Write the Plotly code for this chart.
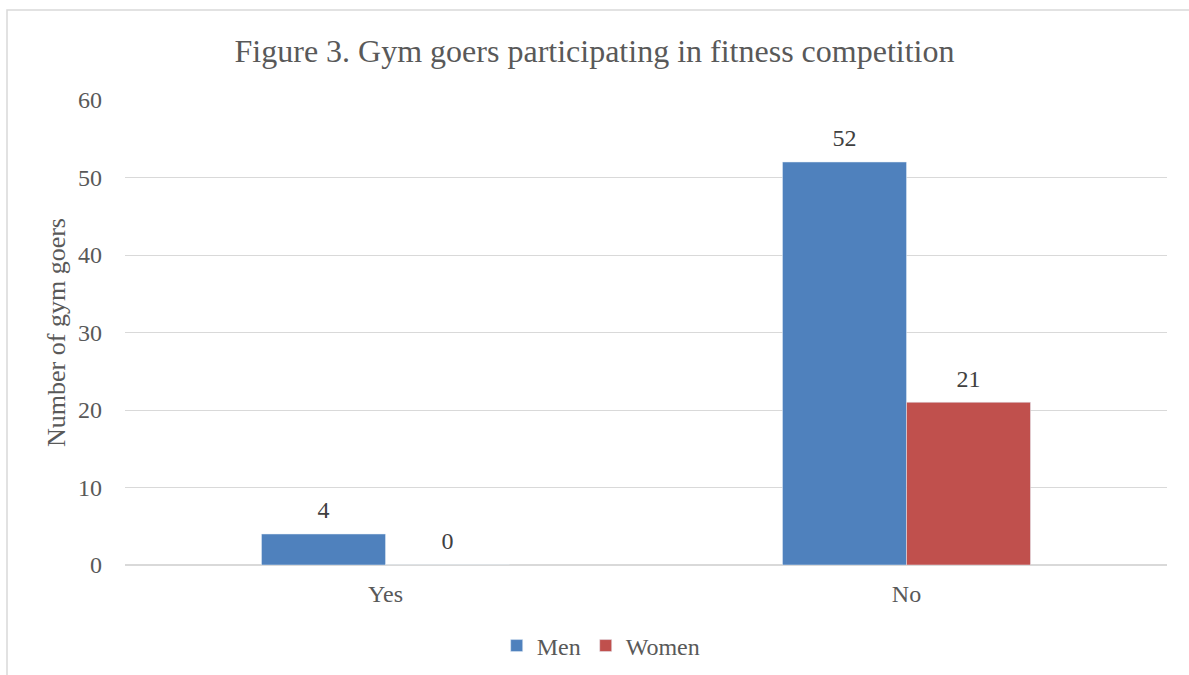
import plotly.graph_objects as go

categories = ["Yes", "No"]
men = [4, 52]
women = [0, 21]
series_names = ["Men", "Women"]
series_colors = ["#4F81BD", "#C0504D"]
title_text = "Figure 3. Gym goers participating in fitness competition"
y_title = "Number of gym goers"

FONT = "Liberation Serif, Times New Roman, serif"
TXT = "#595959"

fig = go.Figure()
for name, vals, col in zip(series_names, [men, women], series_colors):
    fig.add_trace(go.Bar(name=name, x=categories, y=vals, marker_color=col,
                         offsetgroup=name, hoverinfo="x+y+name"))
for name, vals in zip(series_names, [men, women]):
    fig.add_trace(go.Scatter(x=categories, y=vals, text=[str(v) for v in vals],
                             mode="markers+text", textposition="top center",
                             marker=dict(size=14, opacity=0), offsetgroup=name,
                             textfont=dict(family=FONT, size=24, color="#404040"),
                             showlegend=False, hoverinfo="skip", cliponaxis=False))

fig.update_layout(
    width=1189, height=675,
    margin=dict(l=125, r=22, t=100, b=110, autoexpand=False),
    paper_bgcolor="white", plot_bgcolor="white",
    barmode="group", bargap=0.524, bargroupgap=0,
    scattermode="group", scattergap=0.524,
    font=dict(family=FONT, size=24, color=TXT),
    title=dict(text=title_text, x=0.5, xanchor="center", y=0.925, yanchor="middle",
               font=dict(family=FONT, size=32, color=TXT)),
    legend=dict(orientation="h", x=0.457, xanchor="center", yref="container", y=0.043,
                yanchor="middle", font=dict(family=FONT, size=24, color=TXT), itemwidth=30,
                traceorder="normal"),
    xaxis=dict(showgrid=False, showline=False, ticks="", ticklabelstandoff=12,
               automargin=False, tickfont=dict(size=24, color=TXT)),
    yaxis=dict(range=[0, 60], dtick=10, showgrid=True, gridcolor="#D9D9D9", gridwidth=1,
               zeroline=True, zerolinecolor="#D9D9D9", zerolinewidth=1.5, showline=False,
               ticks="", ticklabelstandoff=22, automargin=False, tickfont=dict(size=24, color=TXT),
               title=dict(text=y_title, font=dict(family=FONT, size=26, color=TXT), standoff=4)),
)

fig.add_shape(type="rect", xref="paper", yref="paper",
              x0=(7 - 125) / 1042, x1=1.2, y0=-0.5, y1=(565 - 10) / 465,
              line=dict(color="#D9D9D9", width=1.5), fillcolor="rgba(0,0,0,0)", layer="below")

fig.write_html("out.html")
